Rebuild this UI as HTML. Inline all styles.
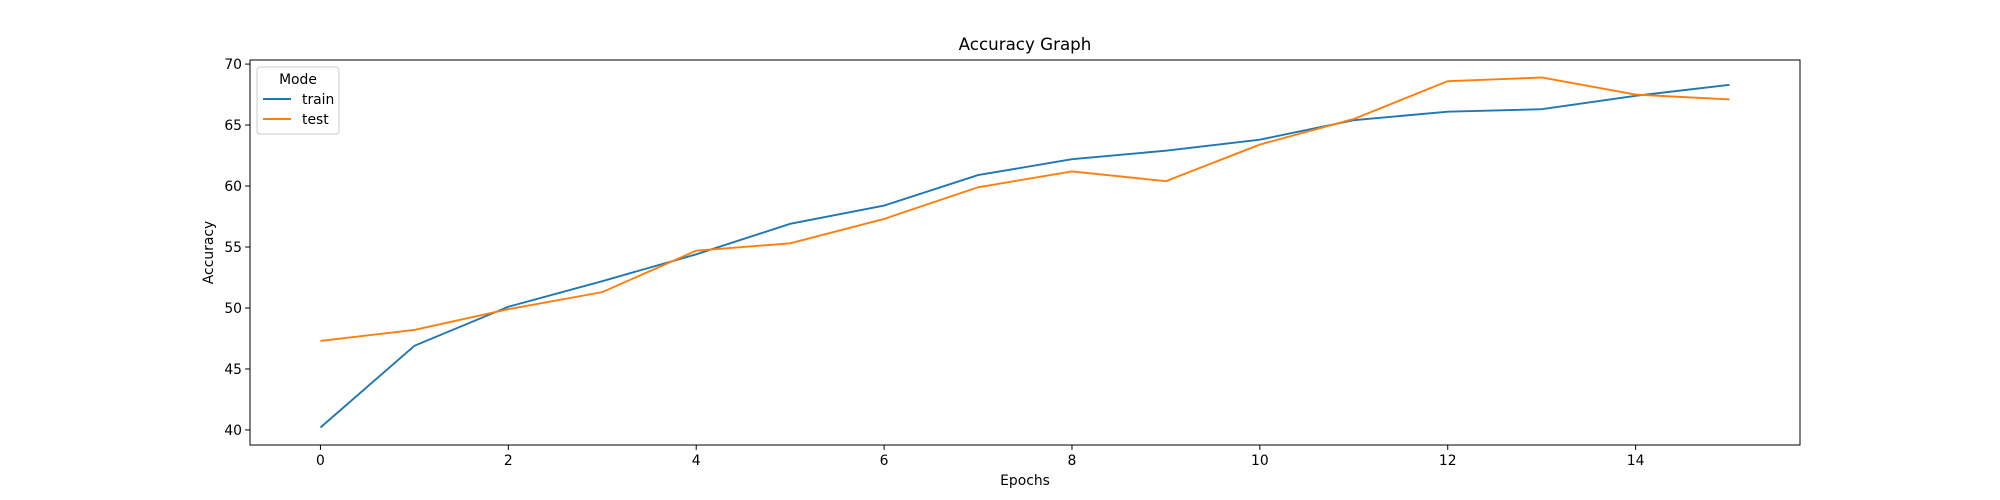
<!DOCTYPE html>
<html><head><meta charset="utf-8"><style>
body{margin:0;background:#fff}
svg{display:block;font-family:"DejaVu Sans","Liberation Sans",sans-serif}
</style></head><body>
<svg id="chart" width="2000" height="500"></svg>
<script>
const epochs=[0,1,2,3,4,5,6,7,8,9,10,11,12,13,14,15];
const trainAcc=[40.2,46.9,50.1,52.2,54.4,56.9,58.4,60.9,62.2,62.9,63.8,65.4,66.1,66.3,67.4,68.3];
const testAcc=[47.3,48.2,49.9,51.3,54.7,55.3,57.3,59.9,61.2,60.4,63.4,65.5,68.6,68.9,67.5,67.1];
const xTicks=[0,2,4,6,8,10,12,14];
const yTicks=[40,45,50,55,60,65,70];
const L=250,R=1800,T=60,B=445;
const allV=trainAcc.concat(testAcc);
const vmin=Math.min(...allV),vmax=Math.max(...allV),pad=(vmax-vmin)*0.05;
const y0=vmin-pad,y1=vmax+pad;
const xmin=Math.min(...epochs),xmax=Math.max(...epochs),xp=(xmax-xmin)*0.05;
const X=v=>L+(v-(xmin-xp))/((xmax+xp)-(xmin-xp))*(R-L);
const Y=v=>B-(v-y0)/(y1-y0)*(B-T);
const svg=document.getElementById('chart');
const NS='http://www.w3.org/2000/svg';
function mk(tag,attrs,parent){const e=document.createElementNS(NS,tag);for(const k in attrs)e.setAttribute(k,attrs[k]);(parent||svg).appendChild(e);return e;}
let t=mk('text',{x:(L+R)/2,y:T-10,'text-anchor':'middle','font-size':'16.7'});t.textContent='Accuracy Graph';


xTicks.forEach(v=>{
 const g=mk('g',{});
 
 
 mk('line',{x1:X(v),x2:X(v),y1:B,y2:B+4.9,stroke:'#000','stroke-width':1},g);
 const s=mk('text',{x:X(v),y:B+20,'text-anchor':'middle','font-size':'13.9'},g);s.textContent=v;
});
yTicks.forEach(v=>{
 const g=mk('g',{});
 
 
 mk('line',{x1:L-4.9,x2:L,y1:Y(v),y2:Y(v),stroke:'#000','stroke-width':1},g);
 const s=mk('text',{x:L-8,y:Y(v)+5,'text-anchor':'end','font-size':'13.9'},g);s.textContent=v;
});
t=mk('text',{x:(L+R)/2,y:B+40,'text-anchor':'middle','font-size':'13.9'});t.textContent='Epochs';


t=mk('text',{x:0,y:0,'text-anchor':'middle','font-size':'13.9',transform:`translate(${L-37},${(T+B)/2}) rotate(-90)`});t.textContent='Accuracy';


function line(vals,color,name){
 const p=mk('polyline',{points:epochs.map((e,i)=>X(e)+','+Y(vals[i])).join(' '),fill:'none',stroke:color,'stroke-width':1.9});
 
 
}
line(trainAcc,'#1f77b4','train-line');
line(testAcc,'#ff7f0e','test-line');
const fr=mk('rect',{x:L,y:T,width:R-L,height:B-T,fill:'none',stroke:'#000','stroke-width':1});


const lg=mk('g',{});


mk('rect',{x:257,y:67,width:82,height:67,fill:'#fff',stroke:'#ccc','stroke-width':1,rx:3},lg);
t=mk('text',{x:298,y:84,'text-anchor':'middle','font-size':'13.9'},lg);t.textContent='Mode';
[['train','#1f77b4',104],['test','#ff7f0e',124]].forEach(([n,c,yy])=>{
 const g=mk('g',{},lg);
 
 
 mk('line',{x1:263,x2:291,y1:yy-5,y2:yy-5,stroke:c,'stroke-width':1.9},g);
 const s=mk('text',{x:302,y:yy,'font-size':'13.9'},g);s.textContent=n;
});
</script>
</body></html>
